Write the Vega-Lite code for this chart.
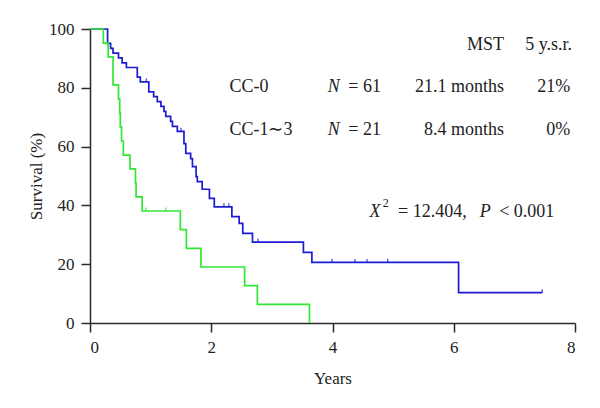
{
  "$schema": "https://vega.github.io/schema/vega-lite/v6.json",
  "width": 485,
  "height": 294,
  "autosize": {"type": "none"},
  "padding": {"left": 90, "top": 29, "right": 25, "bottom": 85},
  "background": "white",
  "config": {
    "view": {"stroke": null},
    "font": "Liberation Serif",
    "axis": {"grid": false, "domainColor": "#2a2a2a", "tickColor": "#2a2a2a", "labelColor": "#222222", "titleColor": "#222222", "labelFont": "Liberation Serif", "titleFont": "Liberation Serif", "labelFontSize": 17, "titleFontSize": 17, "titleFontWeight": "normal", "tickSize": 9, "domainWidth": 1.5, "tickWidth": 1.5}
  },
  "datasets": {
    "km": [
      {"group": "CC-0", "t": 0, "s": 100},
      {"group": "CC-0", "t": 0.29, "s": 95.1},
      {"group": "CC-0", "t": 0.34, "s": 93.4},
      {"group": "CC-0", "t": 0.38, "s": 91.8},
      {"group": "CC-0", "t": 0.47, "s": 90.2},
      {"group": "CC-0", "t": 0.53, "s": 88.5},
      {"group": "CC-0", "t": 0.6, "s": 86.9},
      {"group": "CC-0", "t": 0.78, "s": 83.6},
      {"group": "CC-0", "t": 0.83, "s": 82.0},
      {"group": "CC-0", "t": 0.97, "s": 78.6},
      {"group": "CC-0", "t": 1.05, "s": 77.0},
      {"group": "CC-0", "t": 1.11, "s": 75.3},
      {"group": "CC-0", "t": 1.17, "s": 73.7},
      {"group": "CC-0", "t": 1.22, "s": 72.0},
      {"group": "CC-0", "t": 1.25, "s": 70.3},
      {"group": "CC-0", "t": 1.33, "s": 68.6},
      {"group": "CC-0", "t": 1.36, "s": 66.9},
      {"group": "CC-0", "t": 1.44, "s": 65.2},
      {"group": "CC-0", "t": 1.55, "s": 61.0},
      {"group": "CC-0", "t": 1.58, "s": 57.7},
      {"group": "CC-0", "t": 1.66, "s": 55.9},
      {"group": "CC-0", "t": 1.69, "s": 53.2},
      {"group": "CC-0", "t": 1.75, "s": 49.8},
      {"group": "CC-0", "t": 1.77, "s": 48.1},
      {"group": "CC-0", "t": 1.85, "s": 45.5},
      {"group": "CC-0", "t": 1.97, "s": 42.4},
      {"group": "CC-0", "t": 2.05, "s": 39.5},
      {"group": "CC-0", "t": 2.34, "s": 36.2},
      {"group": "CC-0", "t": 2.46, "s": 33.9},
      {"group": "CC-0", "t": 2.52, "s": 30.5},
      {"group": "CC-0", "t": 2.68, "s": 27.5},
      {"group": "CC-0", "t": 3.52, "s": 24.0},
      {"group": "CC-0", "t": 3.66, "s": 20.6},
      {"group": "CC-0", "t": 6.08, "s": 10.3},
      {"group": "CC-0", "t": 7.46, "s": 10.3},
      {"group": "CC-1~3", "t": 0, "s": 100},
      {"group": "CC-1~3", "t": 0.22, "s": 95.2},
      {"group": "CC-1~3", "t": 0.3, "s": 90.5},
      {"group": "CC-1~3", "t": 0.38, "s": 81.0},
      {"group": "CC-1~3", "t": 0.47, "s": 76.2},
      {"group": "CC-1~3", "t": 0.49, "s": 71.4},
      {"group": "CC-1~3", "t": 0.5, "s": 66.7},
      {"group": "CC-1~3", "t": 0.52, "s": 61.9},
      {"group": "CC-1~3", "t": 0.55, "s": 57.1},
      {"group": "CC-1~3", "t": 0.66, "s": 52.4},
      {"group": "CC-1~3", "t": 0.75, "s": 47.6},
      {"group": "CC-1~3", "t": 0.76, "s": 42.9},
      {"group": "CC-1~3", "t": 0.86, "s": 38.1},
      {"group": "CC-1~3", "t": 1.49, "s": 31.75},
      {"group": "CC-1~3", "t": 1.59, "s": 25.4},
      {"group": "CC-1~3", "t": 1.83, "s": 19.05},
      {"group": "CC-1~3", "t": 2.55, "s": 12.7},
      {"group": "CC-1~3", "t": 2.76, "s": 6.35},
      {"group": "CC-1~3", "t": 3.62, "s": 0}
    ],
    "censor": [
      {"group": "CC-0", "t": 0.93, "s": 82.0},
      {"group": "CC-0", "t": 1.5, "s": 65.2},
      {"group": "CC-0", "t": 2.21, "s": 39.5},
      {"group": "CC-0", "t": 2.29, "s": 39.5},
      {"group": "CC-0", "t": 2.77, "s": 27.5},
      {"group": "CC-0", "t": 3.99, "s": 20.6},
      {"group": "CC-0", "t": 4.37, "s": 20.6},
      {"group": "CC-0", "t": 4.57, "s": 20.6},
      {"group": "CC-0", "t": 4.91, "s": 20.6},
      {"group": "CC-0", "t": 7.46, "s": 10.3},
      {"group": "CC-1~3", "t": 0.92, "s": 38.1},
      {"group": "CC-1~3", "t": 1.25, "s": 38.1}
    ]
  },
  "layer": [
    {
      "data": {"name": "km"},
      "mark": {"type": "line", "interpolate": "step-after", "strokeWidth": 1.7},
      "encoding": {
        "x": {"field": "t", "type": "quantitative", "scale": {"domain": [0, 8], "nice": false}, "axis": {"values": [0, 2, 4, 6, 8], "format": "d", "title": "Years", "labelPadding": 7, "titlePadding": 15}},
        "y": {"field": "s", "type": "quantitative", "scale": {"domain": [0, 100], "nice": false}, "axis": {"values": [0, 20, 40, 60, 80, 100], "format": "d", "title": "Survival (%)", "labelPadding": 7, "titlePadding": 3}},
        "color": {"field": "group", "type": "nominal", "scale": {"domain": ["CC-0", "CC-1~3"], "range": ["#1c1cd4", "#33e633"]}, "legend": null}
      }
    },
    {
      "data": {"name": "censor"},
      "mark": {"type": "point", "shape": "M0,-1L0,0", "size": 50, "filled": false, "strokeWidth": 1.4},
      "encoding": {
        "x": {"field": "t", "type": "quantitative"},
        "y": {"field": "s", "type": "quantitative"},
        "color": {"field": "group", "type": "nominal", "legend": null}
      }
    },
    {
      "data": {"values": [
        {"label": "MST", "x": 6.83, "y": 94.6},
        {"label": "5 y.s.r.", "x": 7.95, "y": 94.6},
        {"label": "21.1 months", "x": 6.83, "y": 80.3},
        {"label": "21%", "x": 7.92, "y": 80.3},
        {"label": "8.4 months", "x": 6.83, "y": 65.6},
        {"label": "0%", "x": 7.92, "y": 65.6}
      ]},
      "mark": {"type": "text", "align": "right", "baseline": "middle", "fontSize": 18, "color": "#222222"},
      "encoding": {"x": {"field": "x", "type": "quantitative"}, "y": {"field": "y", "type": "quantitative"}, "text": {"field": "label"}}
    },
    {
      "data": {"values": [
        {"label": "CC-0", "x": 2.3, "y": 80.3},
        {"label": "CC-1∼3", "x": 2.3, "y": 65.6},
        {"label": "= 61", "x": 4.26, "y": 80.3},
        {"label": "= 21", "x": 4.26, "y": 65.6},
        {"label": "= 12.404,", "x": 5.08, "y": 37.8},
        {"label": "< 0.001", "x": 6.75, "y": 37.8}
      ]},
      "mark": {"type": "text", "align": "left", "baseline": "middle", "fontSize": 18, "color": "#222222"},
      "encoding": {"x": {"field": "x", "type": "quantitative"}, "y": {"field": "y", "type": "quantitative"}, "text": {"field": "label"}}
    },
    {
      "data": {"values": [
        {"label": "N", "x": 3.92, "y": 80.3},
        {"label": "N", "x": 3.92, "y": 65.6},
        {"label": "X", "x": 4.61, "y": 37.8},
        {"label": "P", "x": 6.43, "y": 37.8}
      ]},
      "mark": {"type": "text", "align": "left", "baseline": "middle", "fontSize": 18, "fontStyle": "italic", "color": "#222222"},
      "encoding": {"x": {"field": "x", "type": "quantitative"}, "y": {"field": "y", "type": "quantitative"}, "text": {"field": "label"}}
    },
    {
      "data": {"values": [{"label": "2", "x": 4.83, "y": 40.8}]},
      "mark": {"type": "text", "align": "left", "baseline": "middle", "fontSize": 12, "color": "#222222"},
      "encoding": {"x": {"field": "x", "type": "quantitative"}, "y": {"field": "y", "type": "quantitative"}, "text": {"field": "label"}}
    }
  ]
}
